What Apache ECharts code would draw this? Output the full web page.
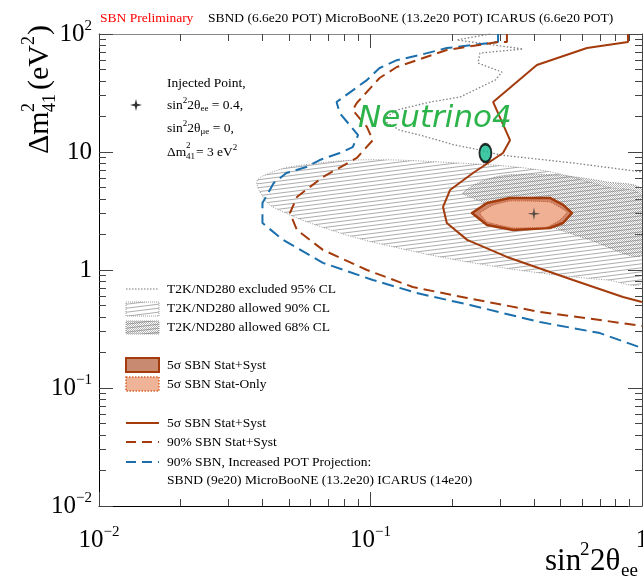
<!DOCTYPE html>
<html><head><meta charset="utf-8">
<script src="https://cdn.jsdelivr.net/npm/echarts@6/dist/echarts.min.js"></script>
<style>html,body{margin:0;padding:0;background:#fff}#c{width:643px;height:580px}</style>
</head><body><div id="c"></div>
<script>
// ---------------- data (sin^2 2theta_ee , dm^2_41 [eV^2]) ----------------
const xMajorTicks = [0.01, 0.1, 1];
const xMinorTicks = [0.02,0.03,0.04,0.05,0.06,0.07,0.08,0.09,0.2,0.3,0.4,0.5,0.6,0.7,0.8,0.9];
const yMajorTicks = [0.01, 0.1, 1, 10, 100];
const yMinorTicks = [0.02,0.03,0.04,0.05,0.06,0.07,0.08,0.09,0.2,0.3,0.4,0.5,0.6,0.7,0.8,0.9,
  2,3,4,5,6,7,8,9,20,30,40,50,60,70,80,90];

const blue90IncPOT = [[0.295,100],[0.295,85.5],[0.191,76],[0.152,66.4],[0.125,60],[0.108,51.5],[0.097,40.7],
  [0.075,26.5],[0.077,21.4],[0.090,13.9],[0.086,11.0],[0.077,9.8],[0.065,8.55],[0.058,7.46],[0.049,6.64],
  [0.044,5.46],[0.040,3.70],[0.040,2.50],[0.0476,1.80],[0.0668,1.15],[0.102,0.823],[0.148,0.638],
  [0.2325,0.505],[0.421,0.362],[0.70,0.292],[1.0,0.218]];
const brown90StatSyst = [[0.318,100],[0.318,85.5],[0.295,85.5],[0.191,73.2],[0.125,52.5],[0.108,42.4],
  [0.089,26.0],[0.086,22.7],[0.097,16.3],[0.102,12.6],[0.089,8.9],[0.0668,6.14],[0.0536,4.16],[0.0505,3.04],
  [0.0536,2.18],[0.0668,1.48],[0.097,1.0],[0.143,0.718],[0.227,0.579],[0.421,0.441],[0.70,0.377],[1.0,0.335]];
const brown5sStatSyst = [[0.888,100],[0.888,85.5],[0.627,76],[0.41,54.6],[0.283,26.5],[0.3265,12.6],
  [0.3076,9.81],[0.2385,6.64],[0.1963,4.76],[0.185,3.42],[0.191,2.50],[0.227,1.80],[0.318,1.29],
  [0.557,0.823],[0.851,0.590],[1.0,0.536]];
const t2kExcluded95 = [[0.2755,100],[0.208,89],[0.3645,74.6],[0.253,69],[0.249,56.8],[0.305,47.6],[0.288,40.7],
  [0.2136,29.2],[0.1657,26.5],[0.125,22.7],[0.111,18.7],[0.128,15.3],[0.156,13.7],[0.203,11.5],[0.253,10.4],
  [0.30,9.44],[0.557,8.07],[1.0,6.78]];
const t2kAllowed90 = [[0.0382,5.68],[0.0409,6.38],[0.0505,7.46],[0.0892,8.55],[0.1803,8.22],[0.421,7.03],
  [0.743,5.05],[1.0,4.16],[1.0,0.791],[0.743,0.823],[0.421,0.944],[0.2385,1.15],[0.1363,1.48],[0.0772,2.06],
  [0.0437,3.42],[0.0392,4.58]];
const t2kAllowed68 = [[0.219,4.49],[0.253,5.57],[0.318,6.38],[0.4865,6.38],[0.743,5.57],[1.0,4.76],[1.0,1.34],
  [0.643,1.80],[0.421,2.50],[0.2755,3.56],[0.2325,4.16]];
const sbn5StatSystFill = [[0.2365,3.04],[0.2686,3.70],[0.3265,4.08],[0.458,4.08],[0.512,3.56],[0.552,3.04],
  [0.512,2.50],[0.458,2.27],[0.335,2.18],[0.2686,2.41]];
const sbn5StatOnlyFill = [[0.253,3.04],[0.283,3.56],[0.3265,3.85],[0.458,3.77],[0.529,3.10],[0.499,2.65],
  [0.447,2.31],[0.335,2.27],[0.2686,2.55]];
const injectedPoint = [[0.4, 3]];
const neutrino4Point = [[0.265, 9.8]];

// ---------------- styles ----------------
const SERIF = '"Liberation Serif","DejaVu Serif",serif';
const BROWN = '#a33b0c', BLUE = '#1b6fac';

function hatchPattern(bg, color, spacing, lw) {
  const c = document.createElement('canvas'); c.width = 32; c.height = 32;
  const g = c.getContext('2d');
  if (bg) { g.fillStyle = bg; g.fillRect(0, 0, 32, 32); }
  g.strokeStyle = color; g.lineWidth = lw;
  for (let y = -8; y <= 44; y += spacing) { g.beginPath(); g.moveTo(0, y); g.lineTo(32, y - 4); g.stroke(); }
  return c;
}
function dotPattern(color) {
  const c = document.createElement('canvas'); c.width = 4; c.height = 4;
  const g = c.getContext('2d'); g.fillStyle = color;
  [[0,0],[2,0],[1,1],[3,1],[0,2],[2,2],[1,3],[3,3]].forEach(p => g.fillRect(p[0], p[1], 1, 1));
  return c;
}
const pat90 = {image: hatchPattern(null, '#666', 4, 0.55), repeat: 'repeat'};
const pat68 = {image: dotPattern('rgba(120,120,120,0.55)'), repeat: 'repeat'};

function powLabel(v) {
  const e = Math.round(Math.log10(v));
  if (e === 0) return '{n|1}';
  if (e === 1) return '{n|10}';
  return '{n|10}{s|' + (e < 0 ? '\u2212' : '') + Math.abs(e) + '}';
}
const labelRich = {
  n: {fontSize: 25, fontFamily: SERIF, color: '#000', lineHeight: 30},
  s: {fontSize: 15, fontFamily: SERIF, color: '#000', lineHeight: 15, verticalAlign: 'top'}
};

function mkAxis(type, pos, major, opts) {
  const ax = {
    type: 'log', logBase: 10, position: pos,
    min: 0.01, max: type === 'x' ? 1 : 100,
    splitLine: {show: false}, minorTick: {show: false},
    axisLine: {show: opts.line, onZero: false, lineStyle: {color: opts.lineColor || '#000', width: 1}},
    axisTick: {show: true, inside: true, length: major ? 14 : 7, customValues: major ? (type==='x'?xMajorTicks:yMajorTicks) : (type==='x'?xMinorTicks:yMinorTicks),
      lineStyle: {color: '#444', width: 1}},
    axisLabel: {show: false}
  };
  if (opts.labels) {
    ax.axisLabel = {show: true, customValues: type==='x'?xMajorTicks:yMajorTicks, formatter: powLabel, rich: labelRich,
      margin: type === 'x' ? 19 : 7, showMinLabel: true, showMaxLabel: true, hideOverlap: false};
  }
  return ax;
}

function polySeries(pts, style, z) {
  return {
    type: 'custom', coordinateSystem: 'cartesian2d', xAxisIndex: 0, yAxisIndex: 0, clip: true, z: z,
    data: pts, silent: true,
    renderItem: function (params, api) {
      if (params.dataIndex !== 0) return null;
      return {type: 'polygon', shape: {points: pts.map(p => api.coord(p)), smooth: style.smooth || 0},
        style: Object.assign({}, style.s)};
    }
  };
}
function lineSeries(pts, color, width, dash, z) {
  return {type: 'line', data: pts, xAxisIndex: 0, yAxisIndex: 0, symbol: 'none', z: z, silent: true,
    lineStyle: {color: color, width: width, type: dash}, clip: true};
}

const starPath = 'path://M0,-10 L1.6,-1.6 L10,0 L1.6,1.6 L0,10 L-1.6,1.6 L-10,0 L-1.6,-1.6 Z';

const txt = (x, y, text, size, color, extra) => Object.assign({type: 'text', x: x, y: y, silent: true,
  style: {text: text, font: size + 'px ' + SERIF, fill: color || '#000', verticalAlign: 'middle'}}, extra || {});
const richTxt = (x, y, text, size) => ({type: 'text', x: x, y: y, silent: true,
  style: {text: text, font: size + 'px ' + SERIF, fill: '#000', verticalAlign: 'middle',
    rich: {s: {fontSize: 9, fontFamily: SERIF, verticalAlign: 'top', lineHeight: 9},
           u: {fontSize: 9, fontFamily: SERIF, verticalAlign: 'bottom', lineHeight: 9},
           m: {fontSize: size, fontFamily: SERIF, lineHeight: 17}}}});

const LX0 = 126, LX1 = 159, LT = 167, FS = 13.5;
const graphics = [
  // header
  txt(100, 18, 'SBN Preliminary', FS, '#ff0000'),
  txt(208, 18, 'SBND (6.6e20 POT) MicroBooNE (13.2e20 POT) ICARUS (6.6e20 POT)', FS, '#000'),
  // injected point block
  {type: 'polygon', silent: true, shape: {points: [[136,99],[137.2,103.8],[142,105],[137.2,106.2],[136,111],[134.8,106.2],[130,105],[134.8,103.8]]}, style: {fill: '#333'}},
  txt(LT, 83, 'Injected Point,', FS),
  richTxt(LT, 105, '{m|sin}{s|2}{m|2θ}{u|ee}{m| = 0.4,}', FS),
  richTxt(LT, 128, '{m|sin}{s|2}{m|2θ}{u|μe}{m| = 0,}', FS),
  txt(LT, 152, 'Δm', FS), txt(LT + 19, 146, '2', 9), txt(LT + 19, 157, '41', 9),
  richTxt(LT + 29, 152, '{m|= 3 eV}{s|2}', FS),
  // legend
  {type: 'line', silent: true, shape: {x1: LX0, y1: 289, x2: LX1, y2: 289}, style: {stroke: '#777', lineWidth: 1, lineDash: [1.5, 1.5]}},
  txt(LT, 289, 'T2K/ND280 excluded 95% CL', FS),
  {type: 'rect', silent: true, shape: {x: LX0, y: 302, width: LX1 - LX0, height: 14}, style: {fill: pat90, stroke: '#999', lineWidth: 1, lineDash: [1, 1]}},
  txt(LT, 308, 'T2K/ND280 allowed 90% CL', FS),
  {type: 'rect', silent: true, shape: {x: LX0, y: 321, width: LX1 - LX0, height: 13}, style: {fill: pat90, stroke: '#999', lineWidth: 1, lineDash: [1, 1]}},
  {type: 'rect', silent: true, shape: {x: LX0, y: 321, width: LX1 - LX0, height: 13}, style: {fill: pat68}},
  txt(LT, 327, 'T2K/ND280 allowed 68% CL', FS),
  {type: 'rect', silent: true, shape: {x: LX0, y: 358, width: LX1 - LX0, height: 14}, style: {fill: '#c98a72', stroke: BROWN, lineWidth: 2}},
  txt(LT, 365, '5σ SBN Stat+Syst', FS),
  {type: 'rect', silent: true, shape: {x: LX0, y: 377, width: LX1 - LX0, height: 14}, style: {fill: '#efb397', stroke: '#d9662f', lineWidth: 1.5, lineDash: [1.5, 1.5]}},
  txt(LT, 384, '5σ SBN Stat-Only', FS),
  {type: 'line', silent: true, shape: {x1: LX0, y1: 423, x2: LX1, y2: 423}, style: {stroke: BROWN, lineWidth: 2}},
  txt(LT, 423, '5σ SBN Stat+Syst', FS),
  {type: 'line', silent: true, shape: {x1: LX0, y1: 442, x2: LX1, y2: 442}, style: {stroke: BROWN, lineWidth: 2, lineDash: [10, 6]}},
  txt(LT, 442, '90% SBN Stat+Syst', FS),
  {type: 'line', silent: true, shape: {x1: LX0, y1: 462, x2: LX1, y2: 462}, style: {stroke: BLUE, lineWidth: 2, lineDash: [10, 6]}},
  txt(LT, 462, '90% SBN, Increased POT Projection:', FS),
  txt(LT, 480, 'SBND (9e20) MicroBooNE (13.2e20) ICARUS (14e20)', FS),
  // Neutrino4 label
  {type: 'text', x: 358, y: 119, silent: true, z: 50,
    style: {text: 'Neutrino4', font: 'italic 31px "DejaVu Sans"', fill: '#2cb34a', verticalAlign: 'middle'}},
  // y axis title (rotated)
  {type: 'group', x: 40, y: 154, rotation: Math.PI / 2, silent: true, children: [
    txt(0, 0, 'Δm', 30), txt(42, -11, '2', 18), txt(42, 10, '41', 18),
    txt(64, 0, '(eV', 30), txt(109, -11, '2', 18), txt(119, 0, ')', 30)
  ]},
  // x axis title
  txt(545, 562, 'sin', 31), txt(580, 550, '2', 19), txt(590, 562, '2θ', 31), txt(621, 571, 'ee', 19)
];

const option = {
  animation: false,
  backgroundColor: '#fff',
  grid: {left: 99, top: 34, width: 543, height: 472, containLabel: false, outerBoundsMode: 'none'},
  xAxis: [
    mkAxis('x', 'bottom', true, {line: true, labels: true}),
    mkAxis('x', 'bottom', false, {line: false}),
    mkAxis('x', 'top', true, {line: true, lineColor: '#888'}),
    mkAxis('x', 'top', false, {line: false})
  ],
  yAxis: [
    mkAxis('y', 'left', true, {line: true, labels: true}),
    mkAxis('y', 'left', false, {line: false}),
    mkAxis('y', 'right', true, {line: true, lineColor: '#444'}),
    mkAxis('y', 'right', false, {line: false})
  ],
  series: [
    polySeries(t2kAllowed90, {smooth: 0.35, s: {fill: pat90, stroke: '#999', lineWidth: 1, lineDash: [1, 1.5]}}, 1),
    polySeries(t2kAllowed68, {smooth: 0.3, s: {fill: pat68, stroke: '#888', lineWidth: 1, lineDash: [1, 1.5]}}, 2),
    lineSeries(t2kExcluded95, '#808080', 1.3, [1.5, 2], 3),
    lineSeries(blue90IncPOT, BLUE, 2, [12, 6], 4),
    lineSeries(brown90StatSyst, BROWN, 2, [11, 6], 5),
    lineSeries(brown5sStatSyst, BROWN, 2, 'solid', 6),
    polySeries(sbn5StatSystFill, {s: {fill: '#cf8669', stroke: BROWN, lineWidth: 2.5, lineJoin: 'round'}}, 7),
    polySeries(sbn5StatOnlyFill, {smooth: 0.1, s: {fill: '#f0b094', stroke: '#c4562a', lineWidth: 1, lineDash: [1, 1]}}, 8),
    {type: 'scatter', data: injectedPoint, symbol: starPath, symbolSize: 13, z: 9, silent: true,
      itemStyle: {color: '#333'}},
    {type: 'scatter', data: neutrino4Point, symbol: 'circle', symbolSize: [12, 18], z: 9, silent: true,
      itemStyle: {color: '#12b98d', borderColor: '#000', borderWidth: 2.2}}
  ],
  graphic: graphics
};
const chart = echarts.init(document.getElementById('c'), null, {renderer: 'canvas'});
chart.setOption(option);
</script></body></html>
